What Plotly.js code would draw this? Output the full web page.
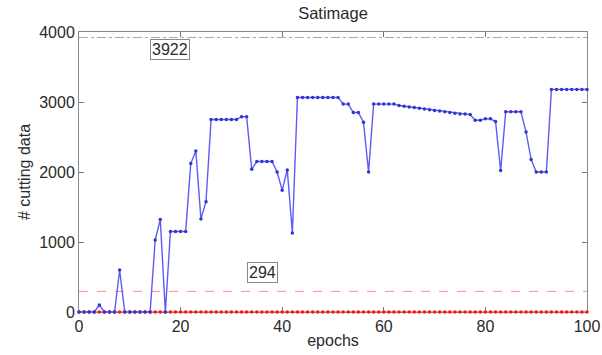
<!DOCTYPE html>
<html>
<head>
<meta charset="utf-8">
<script src="https://cdn.plot.ly/plotly-3.0.1.min.js"></script>
<style>html,body{margin:0;padding:0;background:#fff;}#chart{width:602px;height:355px;}</style>
</head>
<body>
<div id="chart"></div>
<script>
const epochs = [0,1,2,3,4,5,6,7,8,9,10,11,12,13,14,15,16,17,18,19,20,21,22,23,24,25,26,27,28,29,30,31,32,33,34,35,36,37,38,39,40,41,42,43,44,45,46,47,48,49,50,51,52,53,54,55,56,57,58,59,60,61,62,63,64,65,66,67,68,69,70,71,72,73,74,75,76,77,78,79,80,81,82,83,84,85,86,87,88,89,90,91,92,93,94,95,96,97,98,99,100];
const cuttingData = [0,0,0,0,100,0,0,0,600,0,0,0,0,0,0,1030,1320,0,1150,1150,1150,1150,2120,2300,1330,1575,2750,2750,2750,2750,2750,2750,2790,2790,2040,2150,2150,2150,2150,2000,1740,2030,1130,3065,3065,3065,3065,3065,3065,3065,3065,3065,2970,2970,2850,2850,2710,2000,2970,2970,2970,2970,2970,2950,2940,2930,2920,2910,2900,2890,2880,2870,2860,2850,2840,2830,2830,2820,2740,2740,2760,2760,2720,2020,2860,2860,2860,2860,2570,2180,2000,2000,2000,3180,3180,3180,3180,3180,3180,3180,3180];
const redSeries = [0,0,0,0,0,0,0,0,0,0,0,0,0,0,0,0,0,0,0,0,0,0,0,0,0,0,0,0,0,0,0,0,0,0,0,0,0,0,0,0,0,0,0,0,0,0,0,0,0,0,0,0,0,0,0,0,0,0,0,0,0,0,0,0,0,0,0,0,0,0,0,0,0,0,0,0,0,0,0,0,0,0,0,0,0,0,0,0,0,0,0,0,0,0,0,0,0,0,0,0,0];
const lowerBound = 294;
const upperBound = 3922;
const boundX = [0, 100];
const xTicks = [0, 20, 40, 60, 80, 100];
const yTicks = [0, 1000, 2000, 3000, 4000];

const font = "Liberation Sans, Arial, sans-serif";
const txt = '#2a2a2a';

const traces = [
  {x: boundX, y: [upperBound, upperBound], mode: 'lines', line: {color: '#a8a8a8', width: 1, dash: 'dashdot'}, hoverinfo: 'skip'},
  {x: boundX, y: [lowerBound, lowerBound], mode: 'lines', line: {color: '#ff6a6a', width: 1, dash: 'dash'}, opacity: 0.75, hoverinfo: 'skip'},
  {x: epochs, y: redSeries, mode: 'lines+markers', cliponaxis: false, line: {color: '#ff3030', width: 1.2}, marker: {color: '#f01818', size: 3.5}},
  {x: epochs, y: cuttingData, mode: 'lines+markers', cliponaxis: false, line: {color: '#5c5cf6', width: 1.4}, marker: {color: '#3434d0', size: 3.5}}
];

const layout = {
  width: 602, height: 355,
  margin: {l: 79, r: 15, t: 32, b: 43},
  paper_bgcolor: '#fff', plot_bgcolor: '#fff',
  showlegend: false,
  font: {family: font, color: txt, size: 16},
  title: {text: 'Satimage', x: 0.5 + (79 - 15) / 2 / 602, xanchor: 'center', y: 1 - 13 / 355, yanchor: 'middle', yref: 'container', font: {family: font, size: 16.5, color: txt}},
  xaxis: {
    range: [0, 100], tickvals: xTicks, ticktext: xTicks.map(String),
    ticks: 'inside', ticklen: 5, tickcolor: '#777', showline: true, linecolor: '#888', linewidth: 1, mirror: 'ticks',
    layer: 'below traces',
    showgrid: false, zeroline: false, tickfont: {size: 16, color: txt},
    title: {text: 'epochs', font: {size: 16, color: txt}, standoff: 0}
  },
  yaxis: {
    range: [0, 4000], tickvals: yTicks, ticktext: yTicks.map(String),
    ticks: 'inside', ticklen: 5, tickcolor: '#777', showline: true, linecolor: '#888', linewidth: 1, mirror: 'ticks',
    layer: 'below traces',
    showgrid: false, zeroline: false, tickfont: {size: 16, color: txt},
    title: {text: '# cutting data', font: {size: 16, color: txt}, standoff: 4}
  },
  annotations: [
    {x: 17.9, y: 3743, xref: 'x', yref: 'y', text: String(upperBound), showarrow: false, bordercolor: '#888', borderwidth: 1, borderpad: 1, bgcolor: '#fff', font: {size: 16, color: txt}},
    {x: 36.2, y: 571, xref: 'x', yref: 'y', text: String(lowerBound), showarrow: false, bordercolor: '#888', borderwidth: 1, borderpad: 1, bgcolor: '#fff', font: {size: 16, color: txt}}
  ]
};

Plotly.newPlot('chart', traces, layout, {displayModeBar: false, staticPlot: true});
</script>
</body>
</html>
